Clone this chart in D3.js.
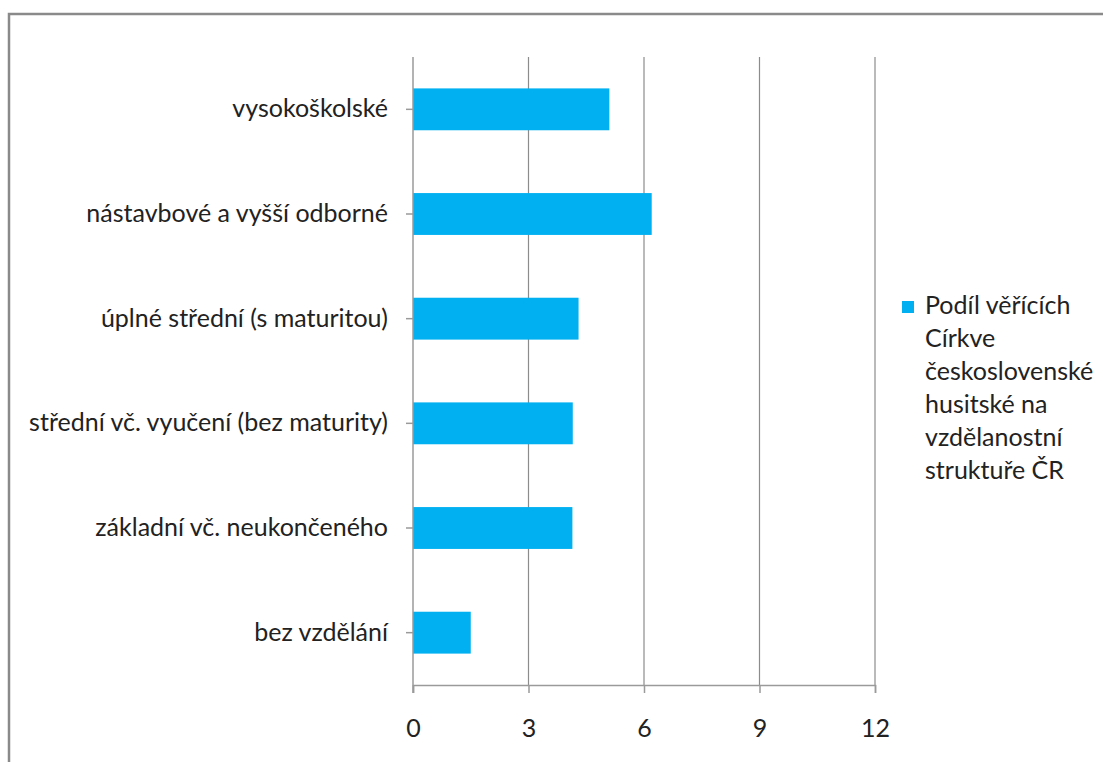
<!DOCTYPE html>
<html><head><meta charset="utf-8">
<script src="https://cdn.jsdelivr.net/npm/d3@7"></script>
<style>body{margin:0;background:#fff;} svg{display:block;}</style>
</head><body>
<svg id="c" width="1103" height="762"></svg>
<script>
const categories = ["vysokoškolské","nástavbové a vyšší odborné","úplné střední (s maturitou)","střední vč. vyučení (bez maturity)","základní vč. neukončeného","bez vzdělání"];
const values = [5.1, 6.2, 4.3, 4.15, 4.14, 1.5];
const xTicks = [0, 3, 6, 9, 12];
const legendLines = ["Podíl věřících","Církve","československé","husitské na","vzdělanostní","struktuře ČR"];

(function(){
const svg = d3.select("#c");
const font = "Lato, 'Open Sans', sans-serif";
svg.append("rect").attr("x",9).attr("y",14).attr("width",1200).attr("height",900)
  .attr("fill","#fff").attr("stroke","#8a8a8a").attr("stroke-width",2.5);

const pL = 413, pR = 875, pT = 57, pB = 685;
const x = d3.scaleLinear().domain([0,12]).range([pL,pR]);
const y = d3.scaleBand().domain(categories).range([pT,pB]).paddingInner(0.6).paddingOuter(0.3);

svg.append("g").selectAll("line").data(xTicks.slice(1)).join("line")
  .attr("x1",d=>x(d)).attr("x2",d=>x(d)).attr("y1",pT).attr("y2",pB)
  .attr("stroke","#8c8c8c").attr("stroke-width",1.2);

svg.append("g").selectAll("rect").data(values).join("rect")
  .attr("x",x(0)).attr("y",(d,i)=>y(categories[i]))
  .attr("width",d=>x(d)-x(0)).attr("height",y.bandwidth())
  .attr("fill","#00b0f0");

const xa = svg.append("g").attr("transform",`translate(0,${pB})`)
  .call(d3.axisBottom(x).tickValues(xTicks).tickSize(8).tickPadding(26));
xa.select(".domain").attr("stroke","#9a9a9a").attr("stroke-width",1.5);
xa.selectAll(".tick line").attr("stroke","#9a9a9a").attr("stroke-width",1.5);
xa.selectAll("text").attr("font-family",font).attr("font-size",25).attr("fill","#222");

const ya = svg.append("g").attr("transform",`translate(${pL},0)`)
  .call(d3.axisLeft(y).tickSize(7).tickPadding(18));
ya.select(".domain").attr("stroke","#9a9a9a").attr("stroke-width",1.5)
  .attr("d",`M0,${pT}V${pB+8}`);
ya.selectAll(".tick line").attr("stroke","#9a9a9a").attr("stroke-width",1.5);
ya.selectAll("text").attr("font-family",font).attr("font-size",25).attr("fill","#222");

const lg = svg.append("g");
lg.append("rect").attr("x",902).attr("y",301).attr("width",12).attr("height",12).attr("fill","#00b0f0");
lg.selectAll("text").data(legendLines).join("text")
  .attr("x",925).attr("y",(d,i)=>314+i*33)
  .attr("font-family",font).attr("font-size",25).attr("fill","#222").text(d=>d);
})();
</script>
</body></html>
